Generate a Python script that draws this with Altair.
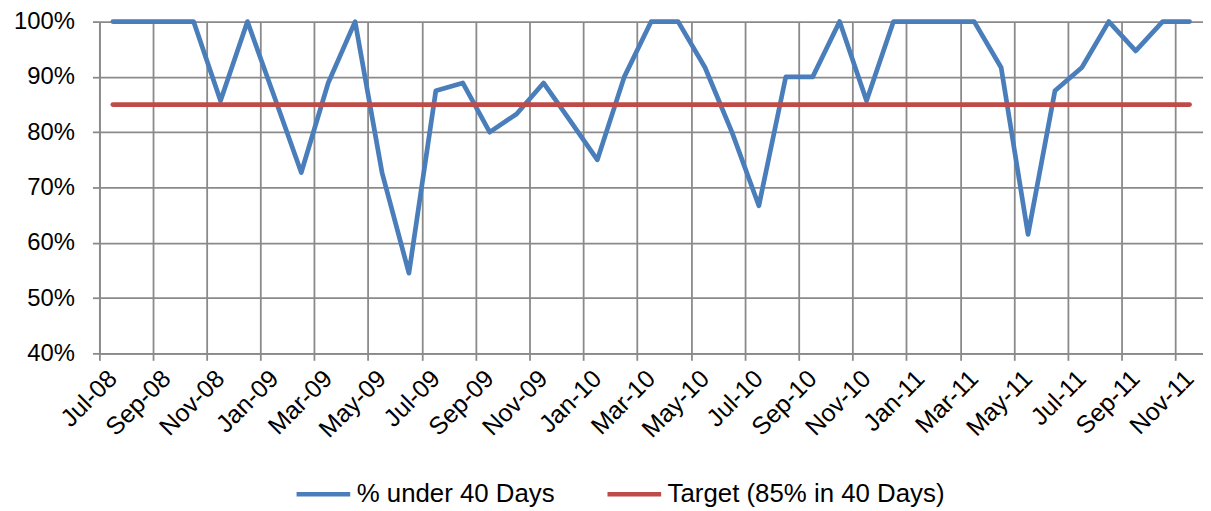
import altair as alt
import pandas as pd

months = ["Jul-08", "Aug-08", "Sep-08", "Oct-08", "Nov-08", "Dec-08",
          "Jan-09", "Feb-09", "Mar-09", "Apr-09", "May-09", "Jun-09",
          "Jul-09", "Aug-09", "Sep-09", "Oct-09", "Nov-09", "Dec-09",
          "Jan-10", "Feb-10", "Mar-10", "Apr-10", "May-10", "Jun-10",
          "Jul-10", "Aug-10", "Sep-10", "Oct-10", "Nov-10", "Dec-10",
          "Jan-11", "Feb-11", "Mar-11", "Apr-11", "May-11", "Jun-11",
          "Jul-11", "Aug-11", "Sep-11", "Oct-11", "Nov-11"]

pct_under_40 = [100, 100, 100, 100, 85.7, 100, 86.4, 72.7, 88.9, 100,
                72.7, 54.5, 87.5, 88.9, 80, 83.3, 88.9, 82, 75, 90,
                100, 100, 91.7, 80, 66.7, 90, 90, 100, 85.7, 100,
                100, 100, 100, 91.7, 61.5, 87.5, 91.7, 100, 94.7, 100, 100]

target = [85] * len(months)

series_names = ["% under 40 Days", "Target (85% in 40 Days)"]
series_colors = ["#4A7EBB", "#BE4B48"]

y_ticks = [0.4, 0.5, 0.6, 0.7, 0.8, 0.9, 1.0]
x_label_months = months[::2]

rows = []
for m, v in zip(months, pct_under_40):
    rows.append({"month": m, "value": v / 100, "series": series_names[0]})
for m, v in zip(months, target):
    rows.append({"month": m, "value": v / 100, "series": series_names[1]})
df = pd.DataFrame(rows)

FONT = "Liberation Sans"

x_enc = alt.X("month:O", sort=months,
              scale=alt.Scale(type="band", paddingInner=0, paddingOuter=0),
              axis=alt.Axis(values=x_label_months, labelAngle=-45,
                            labelAlign="right", labelBaseline="middle",
                            bandPosition=0, grid=True, ticks=True, tickSize=7,
                            labelPadding=14, labelFontSize=25, labelOverlap=False,
                            labelBound=False, labelFlush=False, title=None))
y_enc = alt.Y("value:Q",
              scale=alt.Scale(domain=[0.4, 1.0], nice=False, zero=False),
              axis=alt.Axis(values=y_ticks, format=".0%", tickSize=7,
                            labelPadding=18, labelFontSize=24, title=None))
color_enc = alt.Color("series:N",
                      scale=alt.Scale(domain=series_names, range=series_colors),
                      legend=alt.Legend(title=None, orient="none", direction="horizontal",
                                        legendX=196, legendY=446,
                                        symbolType="stroke", symbolSize=2916,
                                        symbolStrokeWidth=4.5, labelFontSize=26,
                                        labelOffset=4, columnPadding=43, padding=0,
                                        labelLimit=0,
                                        labelFont=FONT, labelColor="black"))

base = alt.Chart(df).mark_line(strokeWidth=4.75, strokeJoin="round", strokeCap="round").encode(
    x=x_enc, y=y_enc, color=color_enc)

blue = base.transform_filter(alt.datum.series == series_names[0])
red = base.transform_filter(alt.datum.series == series_names[1])

chart = alt.layer(blue, red).properties(
    width=1111, height=334,
    autosize=alt.AutoSizeParams(type="none"),
    padding={"left": 92, "top": 12, "right": 0, "bottom": 153},
).configure_view(strokeWidth=0).configure_axis(
    labelFont=FONT, labelColor="black",
    gridColor="#8a8a8a", gridWidth=1.8, gridOpacity=1,
    domainColor="#8a8a8a", domainWidth=1.8,
    tickColor="#8a8a8a", tickWidth=1.8,
)

chart.save("out.html", embed_options={"renderer": "svg", "actions": False})
